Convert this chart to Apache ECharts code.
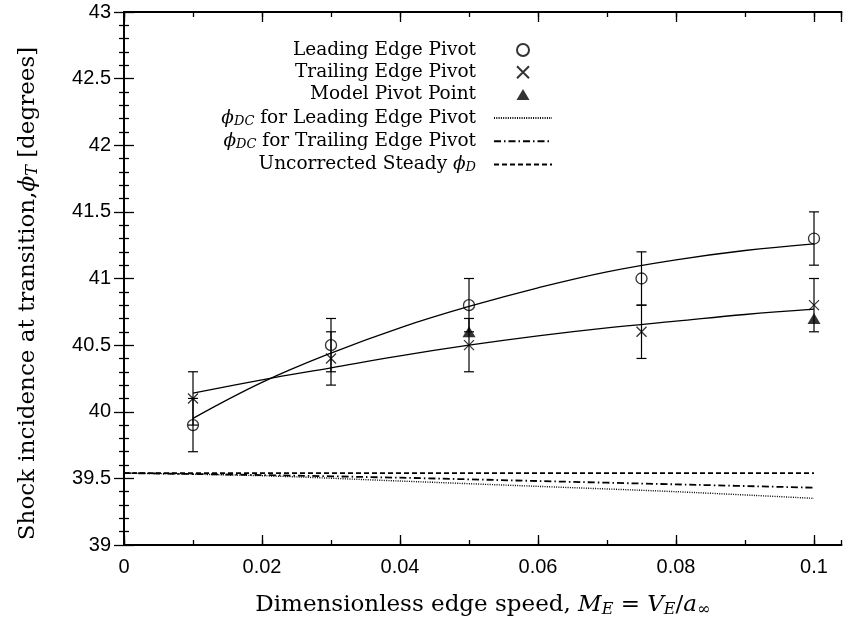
<!DOCTYPE html>
<html><head><meta charset="utf-8">
<script src="https://cdn.jsdelivr.net/npm/echarts@6/dist/echarts.min.js"></script>
<style>html,body{margin:0;padding:0;background:#fff}#c{width:843px;height:623px}</style>
</head><body><div id="c"></div>
<script>
// ---- data ----
const speeds = [0.01, 0.03, 0.05, 0.075, 0.1];
const leadingPivot = [39.9, 40.5, 40.8, 41.0, 41.3];
const trailingPivot = [40.1, 40.4, 40.5, 40.6, 40.8];
const errHalf = 0.2;
const modelX = [0.05, 0.1];
const modelPivot = [40.6, 40.7];
const fitX = [0.01, 0.02, 0.03, 0.04, 0.05, 0.06, 0.07, 0.08, 0.09, 0.1];
const leadingFit = [39.95, 40.22, 40.44, 40.63, 40.79, 40.93, 41.05, 41.14, 41.21, 41.26];
const trailingFit = [40.14, 40.24, 40.33, 40.42, 40.50, 40.57, 40.63, 40.68, 40.73, 40.77];
const corrX = [0, 0.02, 0.04, 0.06, 0.08, 0.1];
const dcLeading = [39.54, 39.52, 39.48, 39.44, 39.40, 39.35];
const dcTrailing = [39.54, 39.525, 39.505, 39.48, 39.455, 39.43];
const steadyPhiD = [39.54, 39.54, 39.54, 39.54, 39.54, 39.54];

const names = {
  lead: 'Leading Edge Pivot',
  trail: 'Trailing Edge Pivot',
  model: 'Model Pivot Point',
  dcLead: 'dcLead',
  dcTrail: 'dcTrail',
  steady: 'steady'
};
const legendLabels = {
  'Leading Edge Pivot': 'Leading Edge Pivot',
  'Trailing Edge Pivot': 'Trailing Edge Pivot',
  'Model Pivot Point': 'Model Pivot Point',
  'dcLead': '{i|ϕ}{s|DC} for Leading Edge Pivot',
  'dcTrail': '{i|ϕ}{s|DC} for Trailing Edge Pivot',
  'steady': 'Uncorrected Steady {i|ϕ}{s|D}'
};

const zip = (xs, ys) => xs.map((x, i) => [x, ys[i]]);
const errData = (ys) => speeds.map((x, i) => [x, ys[i] - errHalf, ys[i] + errHalf]);

const serif = 'DejaVu Serif';
const sans = 'Liberation Sans';
const richSerif = (size, lh) => ({
  i: { fontFamily: serif, fontStyle: 'italic', fontSize: size, lineHeight: lh },
  s: { fontFamily: serif, fontStyle: 'italic', fontSize: Math.round(size * 0.7), lineHeight: lh - Math.round(size * 0.42), padding: [Math.round(size * 0.42), 0, 0, 0], verticalAlign: 'bottom' }
});

function errorBar(params, api) {
  const x = api.value(0), lo = api.value(1), hi = api.value(2);
  const a = api.coord([x, lo]), b = api.coord([x, hi]);
  const w = 5;
  const st = { stroke: '#000', lineWidth: 1.2 };
  return { type: 'group', children: [
    { type: 'line', shape: { x1: a[0], y1: a[1], x2: b[0], y2: b[1] }, style: st },
    { type: 'line', shape: { x1: a[0] - w, y1: a[1], x2: a[0] + w, y2: a[1] }, style: st },
    { type: 'line', shape: { x1: b[0] - w, y1: b[1], x2: b[0] + w, y2: b[1] }, style: st }
  ]};
}

const axisLine = { show: true, lineStyle: { color: '#000', width: 1.8 } };
const xMin = 0, xMax = 0.104;
const baseX = {
  type: 'value', min: xMin, max: xMax, splitLine: { show: false },
  axisLine: axisLine
};
const hideIcon = { color: 'transparent', borderColor: 'transparent', borderWidth: 0 };
// legend triangle icon drawn inside the full 58x12 legend icon box so it keeps its shape
const legendTriangle = 'path://M0,0M58,12M22.5,11.5L35.5,11.5L29,0.5Z';

const chart = echarts.init(document.getElementById('c'), null, { renderer: 'canvas' });
chart.setOption({
  animation: false,
  backgroundColor: '#fff',
  grid: { left: 124, right: 1.4, top: 12, bottom: 74, containLabel: false },
  legend: {
    orient: 'vertical', align: 'right', right: 290, top: 40, padding: 0,
    itemWidth: 58, itemHeight: 12, itemGap: 2.3, symbolKeepAspect: true,
    data: [
      { name: names.lead }, { name: names.trail }, { name: names.model, icon: legendTriangle },
      { name: names.dcLead, itemStyle: hideIcon },
      { name: names.dcTrail, itemStyle: hideIcon },
      { name: names.steady, itemStyle: hideIcon }
    ],
    formatter: (n) => legendLabels[n],
    textStyle: { fontFamily: serif, fontSize: 18.5, color: '#000', lineHeight: 20, padding: [0, 13, 0, 0], rich: richSerif(18.5, 20) }
  },
  xAxis: [
    Object.assign({}, baseX, {
      position: 'bottom', interval: 0.02,
      axisTick: { show: true, inside: true, length: 10, lineStyle: { color: '#000', width: 1.3 } },
      axisLabel: { show: true, showMaxLabel: false, margin: 12, fontFamily: sans, fontSize: 20, color: '#000' },
      name: 'Dimensionless edge speed, {i|M}{s|E} = {i|V}{s|E}/{i|a}{s|∞}',
      nameLocation: 'middle', nameGap: 47,
      nameTextStyle: { fontFamily: serif, fontSize: 23, color: '#000', lineHeight: 26, rich: richSerif(23, 26) }
    }),
    Object.assign({}, baseX, {
      position: 'bottom', interval: 0.01, axisLine: { show: false },
      axisTick: { show: true, inside: true, length: 5, lineStyle: { color: '#000', width: 1.3 } },
      axisLabel: { show: false }
    }),
    Object.assign({}, baseX, {
      position: 'top', interval: 0.02,
      axisTick: { show: true, inside: true, length: 10, lineStyle: { color: '#000', width: 1.3 } },
      axisLabel: { show: false }
    }),
    Object.assign({}, baseX, {
      position: 'top', interval: 0.01, axisLine: { show: false },
      axisTick: { show: true, inside: true, length: 5, lineStyle: { color: '#000', width: 1.3 } },
      axisLabel: { show: false }
    })
  ],
  yAxis: [
    {
      type: 'value', position: 'left', min: 39, max: 43, interval: 0.5,
      splitLine: { show: false }, axisLine: axisLine,
      axisTick: { show: true, inside: true, length: 10, lineStyle: { color: '#000', width: 1.3 } },
      minorTick: { show: true, splitNumber: 5, length: 5, lineStyle: { color: '#000', width: 1.3 } },
      axisLabel: { margin: 13, fontFamily: sans, fontSize: 20, color: '#000' },
      name: 'Shock incidence at transition,{i|ϕ}{s|T} [degrees]',
      nameLocation: 'middle', nameGap: 83, nameRotate: 90,
      nameTextStyle: { fontFamily: serif, fontSize: 23, color: '#000', lineHeight: 26, padding: [0, 30, 0, 0], rich: richSerif(23, 26) }
    },
    {
      type: 'value', position: 'right', min: 39, max: 43, interval: 0.5,
      splitLine: { show: false }, axisLine: axisLine,
      axisTick: { show: true, inside: true, length: 10, lineStyle: { color: '#000', width: 1.3 } },
      minorTick: { show: true, splitNumber: 5, length: 5, lineStyle: { color: '#000', width: 1.3 } },
      axisLabel: { show: false }
    }
  ],
  series: [
    { type: 'custom', name: 'errLead', renderItem: errorBar, data: errData(leadingPivot), encode: { x: 0, y: [1, 2] }, z: 3 },
    { type: 'custom', name: 'errTrail', renderItem: errorBar, data: errData(trailingPivot), encode: { x: 0, y: [1, 2] }, z: 3 },
    { type: 'line', name: 'fitLead', data: zip(fitX, leadingFit), smooth: 0.4, showSymbol: false, symbol: 'none',
      lineStyle: { color: '#000', width: 1.3 }, z: 2 },
    { type: 'line', name: 'fitTrail', data: zip(fitX, trailingFit), smooth: 0.4, showSymbol: false, symbol: 'none',
      lineStyle: { color: '#000', width: 1.3 }, z: 2 },
    { type: 'line', name: names.dcLead, data: zip(corrX, dcLeading), smooth: 0.3, symbol: 'none',
      itemStyle: { color: '#000' }, lineStyle: { color: '#000', width: 1.4, type: [1, 1.3] }, z: 2 },
    { type: 'line', name: names.dcTrail, data: zip(corrX, dcTrailing), smooth: 0.3, symbol: 'none',
      itemStyle: { color: '#000' }, lineStyle: { color: '#000', width: 1.8, type: [7, 3, 1.5, 3] }, z: 2 },
    { type: 'line', name: names.steady, data: zip(corrX, steadyPhiD), symbol: 'none',
      itemStyle: { color: '#000' }, lineStyle: { color: '#000', width: 1.8, type: [5, 3] }, z: 2 },
    { type: 'scatter', name: names.lead, data: zip(speeds, leadingPivot), symbol: 'circle', symbolSize: 11,
      itemStyle: { color: 'transparent', borderColor: '#000', borderWidth: 1.3 }, z: 4 },
    { type: 'scatter', name: names.trail, data: zip(speeds, trailingPivot), symbol: 'path://M0,0L10,10M0,10L10,0', symbolSize: 10,
      itemStyle: { color: 'transparent', borderColor: '#000', borderWidth: 1.3 }, z: 4 },
    { type: 'scatter', name: names.model, data: zip(modelX, modelPivot), symbol: 'triangle', symbolSize: [13, 11], symbolKeepAspect: true,
      itemStyle: { color: '#000' }, z: 4 }
  ]
});
</script>
</body></html>
